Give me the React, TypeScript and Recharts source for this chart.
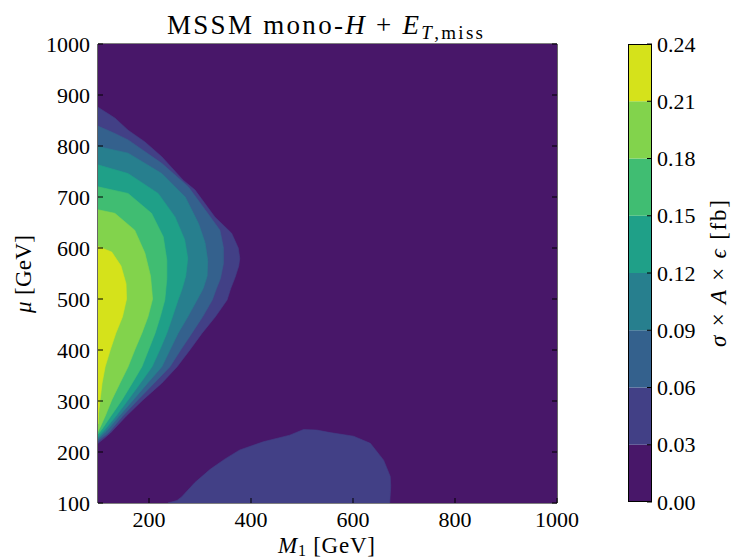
import { ScatterChart, Scatter, XAxis, YAxis, BarChart, Bar } from 'recharts';

const W = 731;
const H = 558;
const FONT = "'Liberation Serif', 'DejaVu Serif', serif";

// contour levels and viridis colours for each band
const levels = [0, 0.03, 0.06, 0.09, 0.12, 0.15, 0.18, 0.21, 0.24];
const bandColors = ['#481769', '#424086', '#34618d', '#277f8e', '#1fa088', '#40bd72', '#82d34c', '#d5e21b'];

const xTicks = [200, 400, 600, 800, 1000];
const yTicks = [100, 200, 300, 400, 500, 600, 700, 800, 900, 1000];

// outlines of the filled regions, [M1, mu] in GeV
const plane = [[100, 100], [1000, 100], [1000, 1000], [100, 1000]];

const above003 = [
  [100, 876], [133, 855], [159, 831], [192, 808], [225, 779], [267, 733], [290, 714], [329, 661],
  [362, 629], [375, 600], [378, 580], [376, 565], [369, 543], [360, 520], [353, 498], [330, 465],
  [304, 433], [280, 400], [255, 367], [225, 335], [188, 302], [155, 270], [124, 237], [110, 225], [100, 217],
];
const above003Low = [
  [237, 100], [255, 105], [264, 112], [290, 140], [320, 166], [350, 187], [378, 204], [424, 220],
  [476, 233], [503, 244], [529, 243], [555, 238], [601, 231], [634, 217], [660, 184], [673, 152],
  [674, 132], [672, 100],
];
const above006 = [
  [100, 839], [130, 826], [159, 812], [225, 766], [277, 720], [310, 675], [339, 635], [346, 600],
  [346, 570], [340, 540], [332, 520], [324, 498], [305, 465], [284, 433], [262, 400], [241, 367],
  [210, 335], [178, 302], [148, 270], [120, 237], [100, 222],
];
const above009 = [
  [100, 799], [159, 786], [225, 746], [271, 700], [297, 648], [310, 610], [315, 576], [314, 545],
  [306, 520], [294, 498], [276, 465], [257, 433], [241, 400], [225, 367], [197, 335], [169, 302],
  [141, 270], [116, 240], [100, 226],
];
const above012 = [
  [100, 763], [159, 746], [218, 707], [251, 661], [270, 616], [276, 580], [272, 545], [265, 520],
  [257, 498], [246, 465], [235, 433], [221, 400], [206, 367], [183, 335], [159, 302], [135, 270],
  [112, 242], [100, 230],
];
const above015 = [
  [100, 720], [159, 707], [205, 668], [228, 622], [235, 576], [235, 540], [231, 498], [222, 465],
  [212, 433], [199, 400], [186, 367], [167, 335], [147, 302], [125, 270], [108, 245], [100, 235],
];
const above018 = [
  [100, 675], [133, 668], [172, 635], [192, 590], [203, 545], [207, 500], [198, 465], [186, 433],
  [172, 400], [159, 367], [143, 335], [127, 302], [114, 270], [104, 248], [100, 240],
];
const above021 = [
  [100, 603], [127, 592], [145, 565], [155, 530], [156, 500], [148, 465], [135, 433], [124, 400],
  [114, 367], [108, 335], [104, 302], [101, 275], [100, 255],
];

const regions = [
  { pts: plane, band: 0 },
  { pts: above003, band: 1 },
  { pts: above003Low, band: 1 },
  { pts: above006, band: 2 },
  { pts: above009, band: 3 },
  { pts: above012, band: 4 },
  { pts: above015, band: 5 },
  { pts: above018, band: 6 },
  { pts: above021, band: 7 },
];

const toRows = (pts: number[][]) => pts.map(([x, y]) => ({ x, y }));

// scatter "line" drawn as a closed filled polygon through the projected points
const polygon = (color: string) => (props: any) => {
  const pts = props.points || [];
  const d = pts.map((p: any, i: number) => `${i ? 'L' : 'M'}${p.x},${p.y}`).join('') + 'Z';
  return <path d={d} fill={color} stroke={color} strokeWidth={0.6} />;
};

const tickText = { fontFamily: FONT, fontSize: 22, fill: '#000' };

function BottomTick({ x, y, payload }: any) {
  return (
    <g>
      <line x1={x} x2={x} y1={y} y2={y - 5} stroke="#000" strokeWidth={1} />
      <text x={x} y={y + 24} textAnchor="middle" {...tickText}>{payload.value}</text>
    </g>
  );
}

function LeftTick({ x, y, payload }: any) {
  return (
    <g>
      <line x1={x} x2={x + 5} y1={y} y2={y} stroke="#000" strokeWidth={1} />
      <text x={x - 8} y={y + 7.5} textAnchor="end" {...tickText}>{payload.value}</text>
    </g>
  );
}

function TopTick({ x, y }: any) {
  return <line x1={x} x2={x} y1={y} y2={y + 5} stroke="#000" strokeWidth={1} />;
}

function RightTick({ x, y }: any) {
  return <line x1={x} x2={x - 5} y1={y} y2={y} stroke="#000" strokeWidth={1} />;
}

function BarTick({ x, y, payload }: any) {
  return (
    <g>
      <line x1={x} x2={x - 5} y1={y} y2={y} stroke="#000" strokeWidth={1} />
      <text x={x + 5} y={y + 7.5} textAnchor="start" {...tickText}>{payload.value.toFixed(2)}</text>
    </g>
  );
}

const barRow: Record<string, any> = { name: 'cb' };
levels.slice(1).forEach((v, i) => { barRow[`b${i}`] = v - levels[i]; });

export default function App() {
  const axisLine = { stroke: '#000', strokeWidth: 1.2 };
  return (
    <div style={{ position: 'absolute', left: 0, top: 0, width: W, height: H, background: '#fff' }}>
      <div style={{ position: 'absolute', left: 0, top: 0 }}>
        <ScatterChart width={W} height={H} margin={{ top: 43, right: 173, bottom: 25, left: 38 }}>
          <XAxis type="number" dataKey="x" domain={[100, 1000]} ticks={xTicks} allowDataOverflow
            tickSize={0} tickMargin={0} tickLine={false} axisLine={axisLine} tick={<BottomTick />} height={30} />
          <XAxis xAxisId="top" orientation="top" type="number" domain={[100, 1000]} ticks={xTicks} allowDataOverflow
            tickSize={0} tickMargin={0} tickLine={false} axisLine={axisLine} tick={<TopTick />} height={1} />
          <YAxis type="number" dataKey="y" domain={[100, 1000]} ticks={yTicks} allowDataOverflow
            tickSize={0} tickMargin={0} tickLine={false} axisLine={axisLine} tick={<LeftTick />} width={60} />
          <YAxis yAxisId="right" orientation="right" type="number" domain={[100, 1000]} ticks={yTicks} allowDataOverflow
            tickSize={0} tickMargin={0} tickLine={false} axisLine={axisLine} tick={<RightTick />} width={1} />
          {regions.map((r, i) => (
            <Scatter key={i} data={toRows(r.pts)} fill={bandColors[r.band]} line={polygon(bandColors[r.band])}
              lineType="joint" shape={() => null} isAnimationActive={false} />
          ))}
        </ScatterChart>
      </div>
      <div style={{ position: 'absolute', left: 0, top: 0 }}>
        <BarChart width={W} height={H} data={[barRow]} barCategoryGap={0} margin={{ top: 44, right: 19, bottom: 56, left: 628 }}>
          <XAxis dataKey="name" hide />
          <YAxis orientation="right" type="number" domain={[0, 0.24]} ticks={levels} allowDataOverflow
            tickSize={0} tickMargin={0} tickLine={false} axisLine={false} tick={<BarTick />} width={60} />
          {bandColors.map((c, i) => (
            <Bar key={i} dataKey={`b${i}`} stackId="cb" fill={c} isAnimationActive={false} />
          ))}
        </BarChart>
      </div>
      <div style={{ position: 'absolute', left: 628, top: 44, width: 24, height: 458, border: '1.2px solid #000', boxSizing: 'border-box', pointerEvents: 'none' }} />
      <svg width={W} height={H} style={{ position: 'absolute', left: 0, top: 0, pointerEvents: 'none' }}>
        <text x={167} y={34} textLength={316} lengthAdjust="spacing" fontFamily={FONT} fontSize={27} fill="#000">
          MSSM mono-<tspan fontStyle="italic">H</tspan>  +  <tspan fontStyle="italic">E</tspan>
          <tspan fontStyle="italic" fontSize={19} dy={5}>T</tspan><tspan fontSize={19}>,miss</tspan>
        </text>
        <text x={278} y={553} textLength={97} lengthAdjust="spacing" fontFamily={FONT} fontSize={23} fill="#000">
          <tspan fontStyle="italic">M</tspan><tspan fontSize={16} dy={3}>1</tspan><tspan dy={-3}> [GeV]</tspan>
        </text>
        <text x={0} y={0} transform="translate(31,313) rotate(-90)" textLength={78} lengthAdjust="spacing" fontFamily={FONT} fontSize={23} fill="#000">
          <tspan fontStyle="italic">μ</tspan> [GeV]
        </text>
        <text x={0} y={0} transform="translate(726,347) rotate(-90)" textLength={147} lengthAdjust="spacing" fontFamily={FONT} fontSize={23} fill="#000">
          <tspan fontStyle="italic">σ</tspan> × <tspan fontStyle="italic">A</tspan> × <tspan fontStyle="italic">ϵ</tspan> [fb]
        </text>
      </svg>
    </div>
  );
}
